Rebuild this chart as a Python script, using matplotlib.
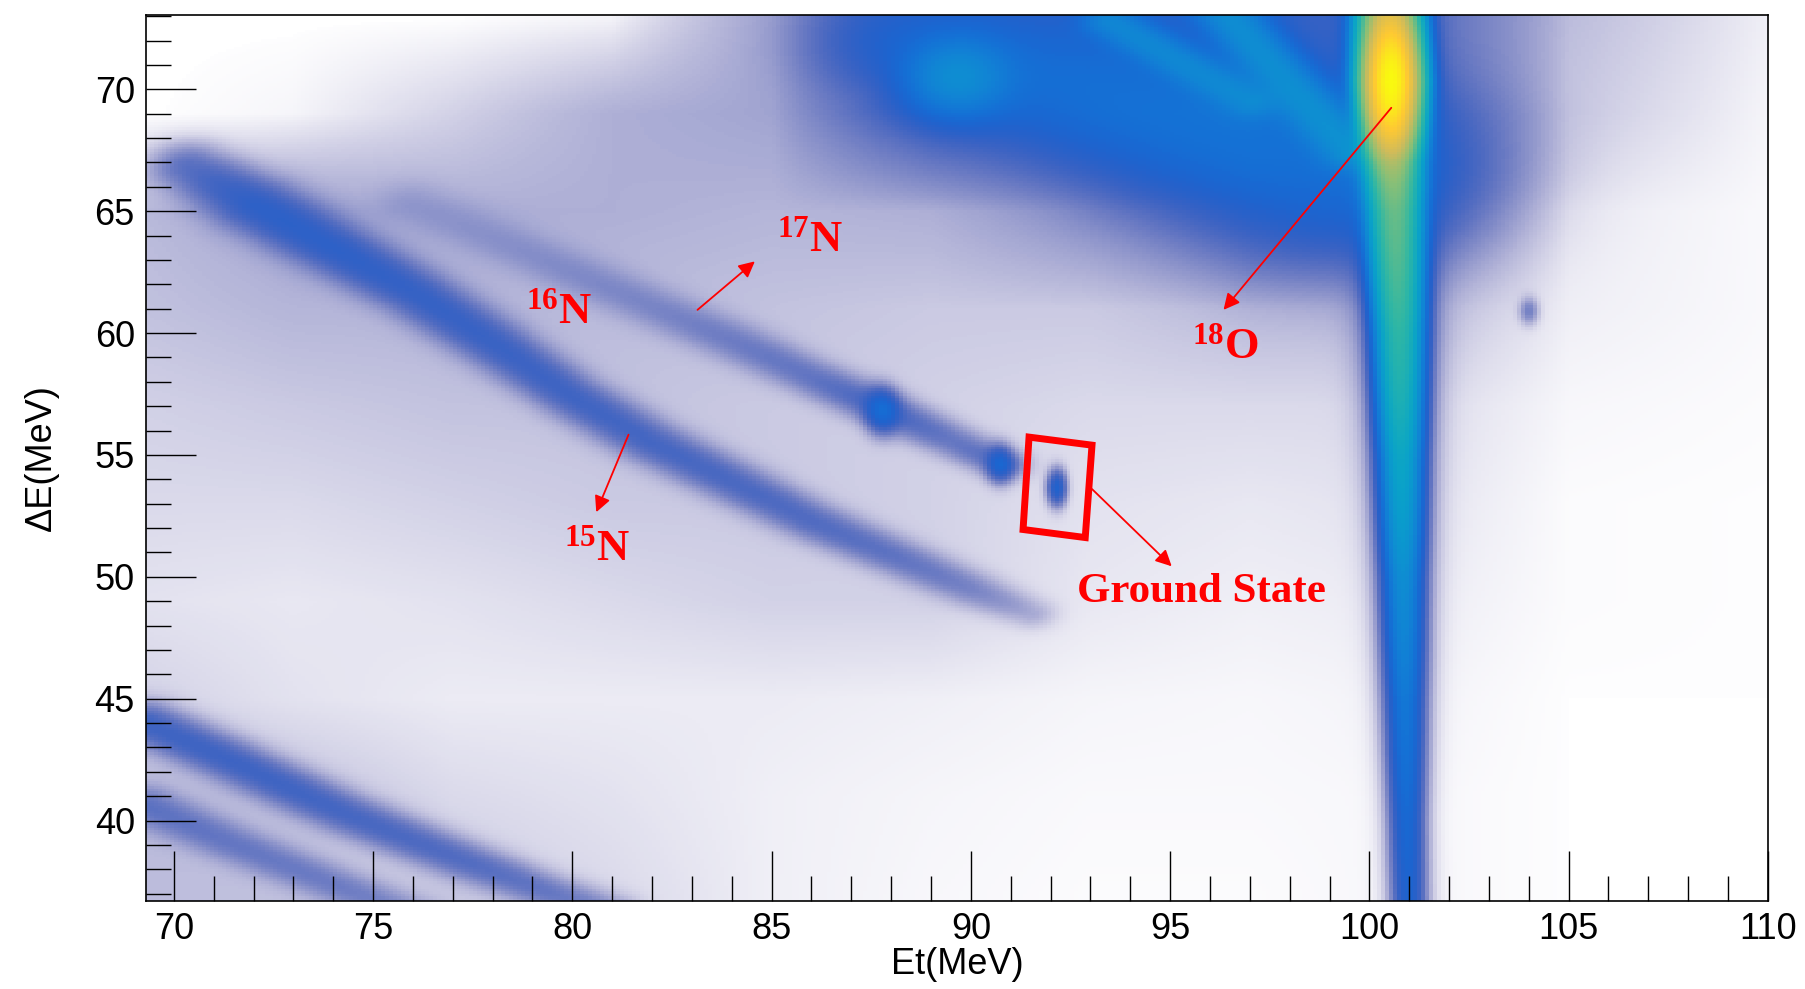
import math
import numpy as np
import matplotlib
matplotlib.use("Agg")
import matplotlib.pyplot as plt
from matplotlib.colors import ListedColormap, LogNorm
from matplotlib.patches import Polygon
from matplotlib.ticker import MultipleLocator

plt.rcParams['font.family'] = ['Liberation Sans', 'DejaVu Sans']
plt.rcParams['mathtext.fontset'] = 'custom'
plt.rcParams['mathtext.rm'] = 'Liberation Serif:bold'
plt.rcParams['mathtext.bf'] = 'Liberation Serif:bold'
plt.rcParams['mathtext.it'] = 'Liberation Serif:bold:italic'

# ---- histogram range (MeV) ----
et_range = (69.3, 110.0)
de_range = (36.7, 73.05)
z_max = 3000.0

# ---- diffuse background counts per bin, read on a coarse grid ----
bg_et = [69, 73, 77, 81, 85, 89, 93, 97, 101, 105, 110]
bg_de = [37, 41, 45, 49, 53, 57, 61, 65, 69, 73]
bg_counts = [
    [0.40, 0.35, 0.30, 0.20, 0.08, 0.04, 0.02, 0.02, 0.04, 0.01, 0.00],  # 37
    [0.40, 0.35, 0.20, 0.15, 0.08, 0.05, 0.03, 0.03, 0.04, 0.01, 0.00],  # 41
    [0.25, 0.15, 0.10, 0.10, 0.10, 0.08, 0.05, 0.04, 0.06, 0.01, 0.01],  # 45
    [0.15, 0.12, 0.15, 0.20, 0.25, 0.25, 0.12, 0.08, 0.10, 0.02, 0.01],  # 49
    [0.20, 0.20, 0.25, 0.30, 0.30, 0.25, 0.15, 0.12, 0.15, 0.02, 0.01],  # 53
    [0.25, 0.30, 0.35, 0.35, 0.30, 0.25, 0.20, 0.20, 0.20, 0.04, 0.02],  # 57
    [0.35, 0.45, 0.45, 0.40, 0.35, 0.30, 0.30, 0.40, 0.40, 0.08, 0.03],  # 61
    [0.40, 0.60, 0.50, 0.50, 0.45, 0.50, 0.80, 1.20, 0.80, 0.10, 0.03],  # 65
    [0.00, 0.05, 0.25, 0.50, 0.60, 1.80, 2.20, 2.60, 1.50, 0.30, 0.05],  # 69
    [0.00, 0.00, 0.00, 0.05, 0.60, 1.80, 2.20, 2.60, 1.50, 0.40, 0.08],  # 73
]

# ---- particle bands: centre line (Et, dE), counts per bin, width ----
band_a_et = [70.4, 72.0, 74.0, 76.0, 78.0, 80.0, 82.0, 84.0, 86.0, 88.0, 90.0, 91.5]
band_a_de = [66.8, 65.3, 63.5, 61.7, 59.6, 57.4, 55.5, 53.9, 52.3, 50.9, 49.5, 48.5]
band_a_n = [1.2, 2.0, 2.0, 1.8, 1.7, 1.6, 1.5, 1.4, 1.3, 1.1, 0.8, 0.4]
band_a_w = [0.62, 0.68, 0.62, 0.58, 0.56, 0.52, 0.52, 0.50, 0.48, 0.46, 0.44, 0.40]

band_b_et = [76.0, 79.0, 82.0, 84.0, 86.0, 87.8, 89.5, 90.8]
band_b_de = [65.3, 63.2, 61.1, 59.7, 58.2, 56.9, 55.6, 54.6]
band_b_n = [0.25, 0.4, 0.6, 0.8, 1.0, 1.5, 1.0, 1.2]
band_b_w = [0.60, 0.55, 0.52, 0.50, 0.46, 0.44, 0.42, 0.38]

band_c_et = [69.3, 71.5, 74.3, 77.2, 79.5, 81.0]
band_c_de = [44.0, 42.4, 40.3, 38.4, 37.0, 36.2]
band_c_n = [1.7, 1.7, 1.5, 1.3, 1.0, 0.8]
band_c_w = [0.52, 0.52, 0.50, 0.48, 0.45, 0.45]

band_d_et = [69.3, 71.4, 74.3, 76.5]
band_d_de = [40.6, 39.1, 37.2, 35.8]
band_d_n = [1.0, 0.9, 0.8, 0.6]
band_d_w = [0.50, 0.48, 0.45, 0.45]

# 18O: broad top region, two ridges, the elastic line and its halo
top_et = [88.3, 90.0, 93.0, 96.0, 99.3]
top_de = [72.0, 71.2, 70.0, 68.3, 66.5]
top_n = [1.8, 2.4, 2.8, 3.2, 3.4]
top_w = [1.4, 1.6, 1.8, 2.0, 2.2]

ridge1_et = [93.5, 97.0]
ridge1_de = [72.8, 69.5]
ridge1_n = [6.0, 5.0]
ridge1_w = [0.45, 0.45]

ridge2_et = [96.3, 99.5]
ridge2_de = [73.3, 67.5]
ridge2_n = [8.0, 7.0]
ridge2_w = [0.5, 0.5]

o18_et = [100.50, 100.55, 100.60, 100.65, 100.75, 100.80, 100.85, 100.90, 100.95, 101.00]
o18_de = [73.1, 70.3, 67.0, 65.0, 60.0, 55.0, 50.0, 45.0, 40.0, 36.6]
o18_n = [300, 500, 160, 100, 50, 22, 10, 5.5, 3.5, 2.8]
o18_w = [0.35, 0.35, 0.33, 0.32, 0.30, 0.29, 0.28, 0.27, 0.25, 0.25]
o18_halo_n = [2.0, 2.0, 1.8, 1.6, 1.5, 1.2, 1.0, 0.8, 0.6, 0.5]
o18_halo_w = [0.65, 0.65, 0.65, 0.6, 0.6, 0.55, 0.5, 0.45, 0.4, 0.4]

# ---- compact spots: Et, dE, counts, sigma Et, sigma dE ----
spot_et = [100.55, 89.65, 87.78, 90.73, 92.15, 104.0]
spot_de = [70.30, 70.45, 56.80, 54.62, 53.65, 60.9]
spot_n = [2400, 7, 3.0, 2.5, 3.0, 0.9]
spot_set = [0.28, 0.80, 0.25, 0.20, 0.15, 0.15]
spot_sde = [1.30, 1.00, 0.55, 0.45, 0.45, 0.35]

# ---- annotations ----
box_et = [91.46, 93.04, 92.87, 91.31]
box_de = [55.73, 55.40, 51.61, 51.94]
label_text = [r'$^{16}$N', r'$^{17}$N', r'$^{15}$N', r'$^{18}$O', 'Ground State']
label_et = [79.67, 85.97, 80.63, 96.39, 95.79]
label_de = [60.85, 63.79, 51.14, 59.43, 49.38]
arrow_tail = [(83.14, 60.95), (81.41, 55.83), (100.55, 69.24), (93.04, 53.60)]
arrow_head = [(84.58, 62.94), (80.60, 52.65), (96.34, 60.95), (95.04, 50.43)]

# ROOT kBird palette
kbird = np.array([
    [0.2082, 0.1664, 0.5293], [0.0592, 0.3599, 0.8684], [0.0780, 0.5041, 0.8385],
    [0.0232, 0.6419, 0.7914], [0.1802, 0.7178, 0.6425], [0.5301, 0.7492, 0.4662],
    [0.8186, 0.7328, 0.3499], [0.9956, 0.7862, 0.1968], [0.9764, 0.9832, 0.0539]])


def palette(t):
    s = np.linspace(0, 1, len(kbird))
    return np.stack([np.interp(t, s, kbird[:, i]) for i in range(3)], axis=-1)


# average colour of a bin with mean count lam (empty bins are white)
lgam = np.concatenate([[0.0], np.cumsum(np.log(np.arange(1, 5001)))])
lams = np.logspace(-2, np.log10(z_max), 400)
cols = []
for lam in lams:
    k = np.arange(max(0, int(lam - 10 * math.sqrt(lam))), int(lam + 10 * math.sqrt(lam) + 15))
    p = np.exp(k * math.log(lam) - lam - lgam[k])
    p /= p.sum()
    c = palette(np.clip(np.log(np.maximum(k, 1)) / math.log(z_max), 0, 1))
    c[k == 0] = 1.0
    cols.append((p[:, None] * c).sum(0))
cmap = ListedColormap(np.array(cols))
cmap.set_under('white')
cmap.set_bad('white')


def band(X, Y, px, py, pn, pw):
    out = np.zeros_like(X)
    for i in range(len(px) - 1):
        dx, dy = px[i + 1] - px[i], py[i + 1] - py[i]
        t = np.clip(((X - px[i]) * dx + (Y - py[i]) * dy) / (dx * dx + dy * dy), 0, 1)
        d2 = (X - px[i] - t * dx) ** 2 + (Y - py[i] - t * dy) ** 2
        n = pn[i] + t * (pn[i + 1] - pn[i])
        w = pw[i] + t * (pw[i + 1] - pw[i])
        out = np.maximum(out, n * np.exp(-0.5 * d2 / w ** 2))
    return out


xe = np.linspace(et_range[0], et_range[1], 408)
ye = np.linspace(de_range[0], de_range[1], 364)
X, Y = np.meshgrid(0.5 * (xe[1:] + xe[:-1]), 0.5 * (ye[1:] + ye[:-1]))

bg = np.array(bg_counts)
rows = np.array([np.interp(X[0], bg_et, r) for r in bg])
counts = np.array([np.interp(Y[:, 0], bg_de, rows[:, j]) for j in range(X.shape[1])]).T

for b in [(band_a_et, band_a_de, band_a_n, band_a_w),
          (band_b_et, band_b_de, band_b_n, band_b_w),
          (band_c_et, band_c_de, band_c_n, band_c_w),
          (band_d_et, band_d_de, band_d_n, band_d_w),
          (top_et, top_de, top_n, top_w),
          (ridge1_et, ridge1_de, ridge1_n, ridge1_w),
          (ridge2_et, ridge2_de, ridge2_n, ridge2_w),
          (o18_et, o18_de, o18_n, o18_w),
          (o18_et, o18_de, o18_halo_n, o18_halo_w)]:
    counts += band(X, Y, *b)
for cx, cy, n, sx, sy in zip(spot_et, spot_de, spot_n, spot_set, spot_sde):
    counts += n * np.exp(-0.5 * ((X - cx) / sx) ** 2 - 0.5 * ((Y - cy) / sy) ** 2)

fig = plt.figure(figsize=(18.06, 9.89), dpi=100)
ax = fig.add_axes([0.0808, 0.0890, 0.8981, 0.8959])
ax.pcolormesh(xe, ye, counts, cmap=cmap, norm=LogNorm(vmin=0.01, vmax=z_max), shading='flat')
ax.set_xlim(*et_range)
ax.set_ylim(*de_range)

ax.set_xticks(range(70, 111, 5))
ax.set_yticks(range(40, 71, 5))
ax.xaxis.set_minor_locator(MultipleLocator(1))
ax.yaxis.set_minor_locator(MultipleLocator(1))
ax.tick_params(which='both', direction='in', top=False, right=False, width=1.0, labelsize=26)
ax.tick_params(which='major', length=36, pad=8)
ax.tick_params(which='minor', length=18)
for s in ax.spines.values():
    s.set_linewidth(1.2)
ax.set_xlabel('Et(MeV)', fontsize=26, labelpad=0)
ax.set_ylabel('ΔE(MeV)', fontsize=26, labelpad=26)

ax.add_patch(Polygon(list(zip(box_et, box_de)), closed=True, fill=False,
                     edgecolor='red', lw=5, joinstyle='miter'))
for tail, head in zip(arrow_tail, arrow_head):
    ax.annotate('', xy=head, xytext=tail,
                arrowprops=dict(arrowstyle='-|>', color='red', lw=1.3,
                                mutation_scale=24, shrinkA=0, shrinkB=0))
for txt, x, y in zip(label_text, label_et, label_de):
    size = 31 if txt == 'Ground State' else 32
    ax.text(x, y, txt, color='red', fontsize=size, family='Liberation Serif',
            weight='bold', ha='center', va='center')

fig.savefig('out.png', dpi=100)
